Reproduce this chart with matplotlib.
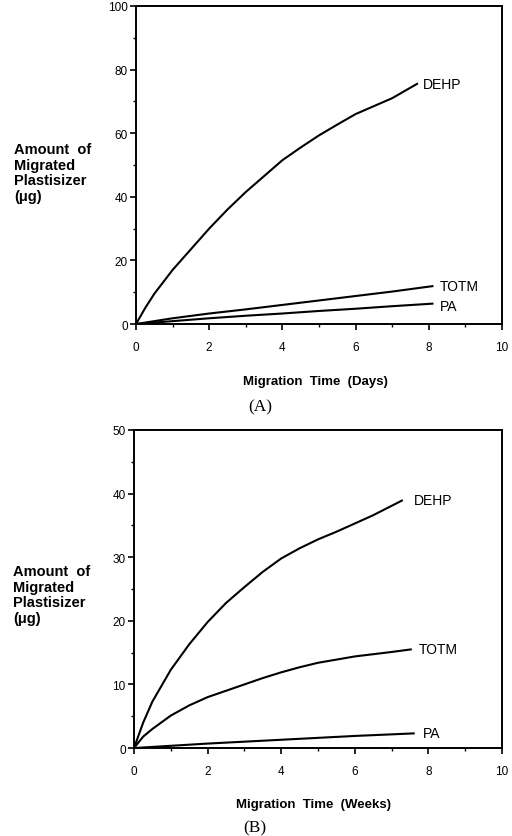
import matplotlib
matplotlib.use("Agg")
import matplotlib.pyplot as plt
from matplotlib.ticker import MultipleLocator

plt.rcParams['font.family'] = ['Liberation Sans', 'DejaVu Sans']

# Panel A (days)
days_dehp_a = [0, 0.25, 0.5, 1, 1.5, 2, 2.5, 3, 3.5, 4, 4.5, 5, 5.5, 6, 6.5, 7, 7.68]
dehp_a = [0, 5, 9.5, 17, 23.5, 30, 36, 41.5, 46.5, 51.5, 55.5, 59.3, 62.7, 66, 68.5, 71, 75.5]
days_totm_a = [0, 1, 2, 3, 4, 5, 6, 7, 8.1]
totm_a = [0, 1.8, 3.3, 4.6, 6.0, 7.4, 8.8, 10.2, 11.9]
days_pa_a = [0, 1, 2, 3, 4, 5, 6, 7, 8.1]
pa_a = [0, 0.9, 1.8, 2.6, 3.3, 4.1, 4.8, 5.6, 6.4]

# Panel B (weeks)
wk_dehp_b = [0, 0.25, 0.5, 1, 1.5, 2, 2.5, 3, 3.5, 4, 4.5, 5, 5.5, 6, 6.5, 7.28]
dehp_b = [0, 4, 7.3, 12.3, 16.3, 19.8, 22.8, 25.3, 27.7, 29.8, 31.4, 32.8, 34, 35.3, 36.6, 38.9]
wk_totm_b = [0, 0.25, 0.5, 1, 1.5, 2, 2.5, 3, 3.5, 4, 4.5, 5, 5.5, 6, 7, 7.52]
totm_b = [0, 1.8, 3.0, 5.1, 6.7, 8.0, 9.0, 10.0, 11.0, 11.9, 12.7, 13.4, 13.9, 14.4, 15.1, 15.5]
wk_pa_b = [0, 2, 4, 6, 7.6]
pa_b = [0, 0.7, 1.3, 1.9, 2.3]

series_names = ["DEHP", "TOTM", "PA"]
ylabel_text = "Amount  of\nMigrated\nPlastisizer\n(\u03bcg)"

fig = plt.figure(figsize=(5.12, 8.37), dpi=100)

def style(ax, ymax, ymajor, yminor):
    ax.set_xlim(0, 10)
    ax.set_ylim(0, ymax)
    ax.xaxis.set_major_locator(MultipleLocator(2))
    ax.xaxis.set_minor_locator(MultipleLocator(1))
    ax.yaxis.set_major_locator(MultipleLocator(ymajor))
    ax.yaxis.set_minor_locator(MultipleLocator(yminor))
    ax.tick_params(which='major', direction='out', length=4, width=1.2, labelsize=8.5, pad=2)
    ax.tick_params(axis='x', which='major', pad=8)
    ax.tick_params(which='minor', direction='out', length=2.5, width=1.0)
    for s in ax.spines.values():
        s.set_linewidth(1.4)

axA = fig.add_axes([0.2656, 0.6117, 0.7148, 0.38])
style(axA, 100, 20, 10)
axA.plot(days_dehp_a, dehp_a, color='black', lw=1.5)
axA.plot(days_totm_a, totm_a, color='black', lw=1.5)
axA.plot(days_pa_a, pa_a, color='black', lw=1.5)
axA.text(7.85, 75.5, series_names[0], fontsize=10, va='center', ha='left')
axA.text(8.3, 11.9, series_names[1], fontsize=10, va='center', ha='left')
axA.text(8.3, 5.8, series_names[2], fontsize=10, va='center', ha='left')

axB = fig.add_axes([0.2617, 0.1051, 0.7188, 0.38])
style(axB, 50, 10, 5)
axB.plot(wk_dehp_b, dehp_b, color='black', lw=1.5)
axB.plot(wk_totm_b, totm_b, color='black', lw=1.5)
axB.plot(wk_pa_b, pa_b, color='black', lw=1.5)
axB.text(7.6, 39.0, series_names[0], fontsize=10, va='center', ha='left')
axB.text(7.75, 15.5, series_names[1], fontsize=10, va='center', ha='left')
axB.text(7.85, 2.3, series_names[2], fontsize=10, va='center', ha='left')

# y labels
fig.text(14/512, 1 - 143/837, ylabel_text, fontsize=10.5, fontweight='bold',
         ha='left', va='top', linespacing=1.15)
fig.text(13/512, 1 - 565/837, ylabel_text, fontsize=10.5, fontweight='bold',
         ha='left', va='top', linespacing=1.15)

# x labels
fig.text(315/512, 1 - 382/837, "Migration  Time  (Days)", fontsize=9.5, fontweight='bold',
         ha='center', va='center')
fig.text(313/512, 1 - 805/837, "Migration  Time  (Weeks)", fontsize=9.5, fontweight='bold',
         ha='center', va='center')

# captions
fig.text(260/512, 1 - 407/837, "(A)", fontsize=12.5, family='Liberation Serif',
         ha='center', va='center')
fig.text(255/512, 1 - 828/837, "(B)", fontsize=12.5, family='Liberation Serif',
         ha='center', va='center')

fig.savefig("out.png", dpi=100)
